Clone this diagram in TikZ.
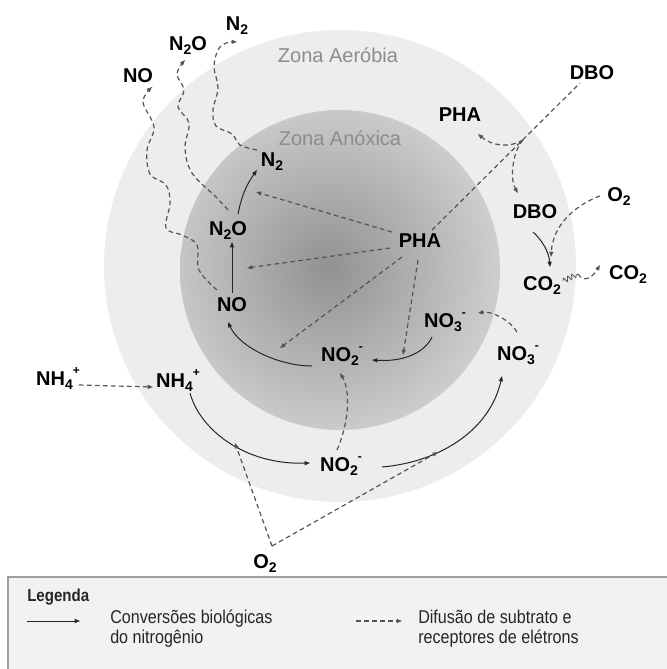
\documentclass[tikz,border=0pt]{standalone}
\usepackage{fontspec}
\setmainfont{Liberation Sans}
\newfontfamily\narrowfont[FakeStretch=0.87]{Liberation Sans}
\usetikzlibrary{arrows.meta,calc,decorations.pathmorphing}
\definecolor{ringcol}{gray}{0.93}
\definecolor{coreout}{gray}{0.82}
\definecolor{corein}{gray}{0.57}
\definecolor{zonecol}{gray}{0.55}
\definecolor{linecol}{gray}{0.15}
\definecolor{dashcol}{gray}{0.33}
\definecolor{boxfill}{gray}{0.95}
\definecolor{boxline}{gray}{0.62}
\newcommand{\lsub}[1]{\raisebox{-0.22em}{\fontsize{10.5}{10}\selectfont #1}}
\newcommand{\lsup}[1]{\raisebox{0.55em}{\fontsize{9}{10}\selectfont #1}}
\begin{document}
\begin{tikzpicture}[x=0.75pt,y=-0.75pt,
  lbl/.style={font=\bfseries\fontsize{15}{15}\selectfont, text height=10.7pt, text depth=0pt, inner sep=0pt},
  zone/.style={font=\fontsize{15}{15}\selectfont, text=zonecol, text height=10.7pt, text depth=0pt, inner sep=0pt},
  legtxt/.style={font=\narrowfont\fontsize{13.9}{14}\selectfont, text=black!85, anchor=west, text height=10pt, text depth=0pt, inner sep=0pt},
  conv/.style={draw=linecol, line width=0.75pt, -{Triangle[length=4pt,width=3pt]}},
  diff/.style={draw=dashcol, line width=0.9pt, dash pattern=on 3.5pt off 2.5pt, -{Triangle[length=4pt,width=3pt]}},
  diffnt/.style={draw=dashcol, line width=0.9pt, dash pattern=on 3.5pt off 2.5pt}]
\useasboundingbox (0,0) rectangle (667,669);
% zones
\fill[ringcol] (340,266) circle (177pt);
\begin{scope}
  \clip (340,270) circle (120pt);
  \shade[inner color=corein, outer color=coreout] (328,268) circle (135pt);
\end{scope}
\node[zone] (zA) at (338,55) {Zona Aeróbia};
\node[zone] (zN) at (340,138) {Zona Anóxica};
% labels
\node[lbl] (NOo) at (138,75) {NO};
\node[lbl] (N2Oo) at (188,43) {N\lsub{2}O};
\node[lbl] (N2o) at (237,23) {N\lsub{2}};
\node[lbl] (DBOo) at (592,72) {DBO};
\node[lbl] (PHAo) at (460,114) {PHA};
\node[lbl] (O2r) at (619,194) {O\lsub{2}};
\node[lbl] (CO2r) at (628,272) {CO\lsub{2}};
\node[lbl] (NH4l) at (58,378) {NH\lsub{4}\lsup{+}};
\node[lbl] (O2b) at (265,561) {O\lsub{2}};
\node[lbl] (N2i) at (272,159) {N\lsub{2}};
\node[lbl] (N2Oi) at (228,228) {N\lsub{2}O};
\node[lbl] (PHAi) at (420,240) {PHA};
\node[lbl] (DBOi) at (535,211) {DBO};
\node[lbl] (CO2i) at (542,283) {CO\lsub{2}};
\node[lbl] (NOi) at (232,304) {NO};
\node[lbl] (NO3i) at (445,320) {NO\lsub{3}\lsup{-}};
\node[lbl] (NO2i) at (342,354) {NO\lsub{2}\lsup{-}};
\node[lbl] (NO3o) at (518,353) {NO\lsub{3}\lsup{-}};
\node[lbl] (NH4i) at (178,380) {NH\lsub{4}\lsup{+}};
\node[lbl] (NO2b) at (341,464) {NO\lsub{2}\lsup{-}};
% wavy gas escapes
\coordinate (noS) at ($(NOi)+(-15,-14)$);
\coordinate (noE) at ($(NOo)+(14,12)$);
\draw[diff] plot[smooth, tension=0.6] coordinates {(noS) (199,270) (197,245) (182,235) (166,228) (170,203) (166,185) (150,174) (147,150) (154,127) (143,102) (noE)};
\coordinate (n2oS) at ($(N2Oi)+(0,-18)$);
\coordinate (n2oE) at ($(N2Oo)+(-3,17)$);
\draw[diff] plot[smooth, tension=0.6] coordinates {(n2oS) (216,197) (192,173) (185,148) (189,123) (178,107) (184,90) (177,74) (n2oE)};
\coordinate (n2S) at ($(N2i)+(-15,-9)$);
\coordinate (n2E) at ($(N2o)+(0,19)$);
\draw[diff] plot[smooth, tension=0.6] coordinates {(n2S) (240,145) (232,134) (216,126) (213,110) (218,88) (214,67) (218,50) (226,43) (n2E)};
% denitrification chain
\draw[conv] ($(N2Oi)+(10,-14)$) to[bend left=12] ($(N2i)+(-15,11)$);
\draw[conv] ($(NOi)+(0,-11)$) -- ($(N2Oi)+(4,14)$);
\draw[conv] ($(NO2i)+(-30,12)$) .. controls (280,366) and (240,348) .. ($(NOi)+(-4,18)$);
\draw[conv] ($(NO3i)+(-13,17)$) .. controls (425,352) and (405,362) .. ($(NO2i)+(30,6)$);
\draw[diff] ($(NO3o)+(-1,-21)$) .. controls (510,320) and (492,311) .. ($(NO3i)+(33,-7)$);
% PHA as electron donor
\coordinate (pa) at (256,192);
\coordinate (pb) at (247,268);
\coordinate (pc) at (280,348);
\coordinate (pd) at (403,355);
\draw[diff] ($(PHAi)+(-28,-8)$) -- (pa);
\draw[diff] ($(PHAi)+(-30,8)$) -- (pb);
\draw[diff] ($(PHAi)+(-18,17)$) -- (pc);
\draw[diff] ($(PHAi)+(-2,20)$) -- (pd);
% DBO uptake
\draw[diffnt] ($(PHAi)+(12,-10)$) -- ($(DBOo)+(-12,11)$);
\coordinate (jn) at (523,140);
\draw[diff] (jn) .. controls (510,148) and (492,146) .. ($(PHAo)+(18,20)$);
\draw[diff] (jn) .. controls (512,152) and (510,180) .. ($(DBOi)+(-17,-18)$);
\draw[diff] ($(O2r)+(-19,2)$) .. controls (580,203) and (553,222) .. ($(CO2i)+(9,-26)$);
\draw[conv] ($(DBOi)+(-2,21)$) .. controls (542,240) and (549,252) .. ($(CO2i)+(8,-16)$);
\coordinate (sq1) at ($(CO2i)+(21,-2)$);
\coordinate (sq2) at (578,274);
\draw[dashcol, line width=0.6pt, decorate, decoration={snake, amplitude=1.8pt, segment length=3.5pt}] (sq1) -- (sq2);
\draw[diff] (sq2) .. controls (584,283) and (592,278) .. ($(CO2r)+(-28,-7)$);
% nitrification
\draw[diff] ($(NH4l)+(21,7)$) -- ($(NH4i)+(-25,7)$);
\draw[conv] ($(NH4i)+(12,13)$) .. controls (200,430) and (245,465) .. ($(NO2b)+(-31,-1)$);
\draw[conv] ($(NO2b)+(41,3)$) .. controls (440,462) and (490,430) .. ($(NO3o)+(-16,23)$);
\draw[diff] ($(NO2b)+(-4,-14)$) .. controls (350,420) and (350,390) .. ($(NO2i)+(-2,19)$);
\coordinate (ov) at ($(O2b)+(7,-15)$);
\coordinate (oa) at (235,443);
\coordinate (ob) at (438,452);
\draw[diff] (ov) -- (oa);
\draw[diff] (ov) -- (ob);
% legend
\draw[draw=boxline, fill=boxfill, line width=1.3pt] (8,577) rectangle (700,700);
\node[legtxt, font=\narrowfont\bfseries\fontsize{13}{13}\selectfont] (lg) at (27,595) {Legenda};
\coordinate (l1a) at (27,621);
\coordinate (l1b) at (80,621);
\draw[conv] (l1a) -- (l1b);
\node[legtxt] (t1) at (110,617) {Conversões biológicas};
\node[legtxt] (t2) at (110,637) {do nitrogênio};
\coordinate (l2a) at (356,621);
\coordinate (l2b) at (402,621);
\draw[diff] (l2a) -- (l2b);
\node[legtxt] (t3) at (418,617) {Difusão de subtrato e};
\node[legtxt] (t4) at (418,637) {receptores de elétrons};
\end{tikzpicture}
\end{document}
